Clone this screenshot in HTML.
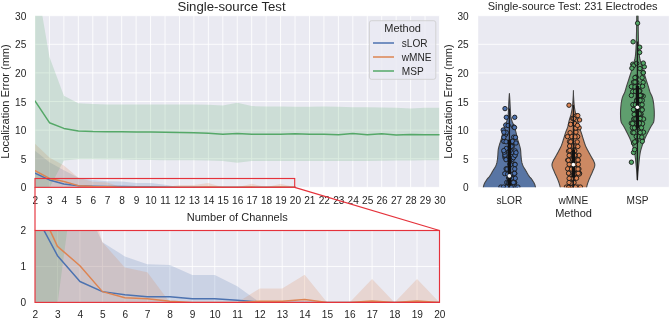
<!DOCTYPE html><html><head><meta charset="utf-8"><style>html,body{margin:0;padding:0;background:#fff;width:671px;height:319px;overflow:hidden}svg{display:block;will-change:transform}text{font-family:"Liberation Sans", sans-serif;fill:#262626}</style></head><body>
<svg width="671" height="319" viewBox="0 0 671 319">
<defs>
<clipPath id="cT"><rect x="35.0" y="15.7" width="404.5" height="171.65"/></clipPath>
<clipPath id="cI"><rect x="35.0" y="230.5" width="404.5" height="71.89999999999998"/></clipPath>
<clipPath id="cR"><rect x="478.2" y="15.7" width="190.7" height="171.65"/></clipPath>
</defs>
<rect x="35.0" y="15.7" width="404.5" height="171.65" fill="#EAEAF2"/>
<path d="M35.00 15.7V187.35M49.45 15.7V187.35M63.89 15.7V187.35M78.34 15.7V187.35M92.79 15.7V187.35M107.23 15.7V187.35M121.68 15.7V187.35M136.12 15.7V187.35M150.57 15.7V187.35M165.02 15.7V187.35M179.46 15.7V187.35M193.91 15.7V187.35M208.36 15.7V187.35M222.80 15.7V187.35M237.25 15.7V187.35M251.70 15.7V187.35M266.14 15.7V187.35M280.59 15.7V187.35M295.04 15.7V187.35M309.48 15.7V187.35M323.93 15.7V187.35M338.38 15.7V187.35M352.82 15.7V187.35M367.27 15.7V187.35M381.71 15.7V187.35M396.16 15.7V187.35M410.61 15.7V187.35M425.05 15.7V187.35M439.50 15.7V187.35M35.0 187.35H439.5M35.0 158.74H439.5M35.0 130.13H439.5M35.0 101.52H439.5M35.0 72.92H439.5M35.0 44.31H439.5M35.0 15.70H439.5" stroke="#fff" stroke-width="0.85" fill="none"/>
<g clip-path="url(#cT)">
<polygon points="35.00,150.73 49.45,162.17 63.89,170.19 78.34,177.79 92.79,180.03 107.23,181.29 121.68,181.40 136.12,183.00 150.57,183.00 165.02,184.78 179.46,187.35 193.91,187.35 208.36,187.35 222.80,187.35 237.25,187.35 251.70,187.35 266.14,187.35 280.59,187.35 295.04,187.35 295.04,187.35 280.59,187.35 266.14,187.35 251.70,187.35 237.25,187.35 222.80,187.35 208.36,187.35 193.91,187.35 179.46,187.35 165.02,187.35 150.57,187.35 136.12,187.35 121.68,187.35 107.23,187.35 92.79,187.35 78.34,187.35 63.89,187.35 49.45,187.35 35.00,187.35" fill="#4C72B0" fill-opacity="0.2"/>
<polygon points="35.00,143.87 49.45,157.60 63.89,165.61 78.34,177.79 92.79,181.80 107.23,182.54 121.68,187.35 136.12,187.35 150.57,187.35 165.02,187.35 179.46,185.12 193.91,185.12 208.36,182.94 222.80,187.35 237.25,187.35 251.70,183.63 266.14,187.35 280.59,183.63 295.04,187.35 295.04,187.35 280.59,187.35 266.14,187.35 251.70,187.35 237.25,187.35 222.80,187.35 208.36,187.35 193.91,187.35 179.46,187.35 165.02,187.35 150.57,187.35 136.12,187.35 121.68,187.35 107.23,187.35 92.79,187.35 78.34,187.35 63.89,187.35 49.45,187.35 35.00,187.35" fill="#DD8452" fill-opacity="0.2"/>
<polygon points="35.00,-27.21 49.45,56.90 63.89,95.80 78.34,103.24 92.79,104.10 107.23,104.39 121.68,104.39 136.12,104.39 150.57,104.39 165.02,104.39 179.46,104.39 193.91,104.39 208.36,104.67 222.80,105.53 237.25,102.67 251.70,106.10 266.14,106.39 280.59,106.39 295.04,106.67 309.48,106.67 323.93,106.39 338.38,106.67 352.82,107.25 367.27,107.25 381.71,107.53 396.16,107.82 410.61,108.39 425.05,107.82 439.50,107.82 439.50,160.17 425.05,160.17 410.61,160.46 396.16,160.46 381.71,160.74 367.27,161.03 352.82,161.03 338.38,161.03 323.93,161.03 309.48,161.03 295.04,161.03 280.59,161.03 266.14,161.03 251.70,161.03 237.25,162.75 222.80,161.03 208.36,160.46 193.91,160.17 179.46,160.17 165.02,160.17 150.57,159.89 136.12,159.89 121.68,159.60 107.23,159.60 92.79,159.31 78.34,159.31 63.89,160.46 49.45,187.64 35.00,198.79" fill="#55A868" fill-opacity="0.2"/>
<polyline points="35.00,173.22 49.45,179.91 63.89,184.03 78.34,185.63 92.79,186.15 107.23,186.43 121.68,186.43 136.12,186.78 150.57,186.78 165.02,187.01 179.46,187.29 193.91,187.35 208.36,187.35 222.80,187.35 237.25,187.35 251.70,187.35 266.14,187.35 280.59,187.35 295.04,187.35" fill="none" stroke="#4C72B0" stroke-width="1.5" stroke-linejoin="round" stroke-linecap="round"/>
<polyline points="35.00,170.76 49.45,178.42 63.89,181.51 78.34,185.63 92.79,186.61 107.23,186.78 121.68,187.18 136.12,187.35 150.57,187.35 165.02,187.35 179.46,187.18 193.91,187.18 208.36,186.89 222.80,187.35 237.25,187.35 251.70,187.12 266.14,187.35 280.59,187.12 295.04,187.35" fill="none" stroke="#DD8452" stroke-width="1.5" stroke-linejoin="round" stroke-linecap="round"/>
<polyline points="35.00,100.95 49.45,122.70 63.89,128.42 78.34,130.99 92.79,131.56 107.23,131.74 121.68,131.85 136.12,131.96 150.57,132.08 165.02,132.25 179.46,132.42 193.91,132.71 208.36,133.28 222.80,134.14 237.25,133.57 251.70,134.14 266.14,134.14 280.59,134.14 295.04,133.85 309.48,134.14 323.93,134.14 338.38,134.71 352.82,133.57 367.27,134.71 381.71,133.85 396.16,135.00 410.61,134.42 425.05,134.71 439.50,134.71" fill="none" stroke="#55A868" stroke-width="1.5" stroke-linejoin="round" stroke-linecap="round"/>
</g>
<text x="26.3" y="191.45" font-size="10.1" text-anchor="end">0</text>
<text x="26.3" y="162.84" font-size="10.1" text-anchor="end">5</text>
<text x="26.3" y="134.23" font-size="10.1" text-anchor="end">10</text>
<text x="26.3" y="105.62" font-size="10.1" text-anchor="end">15</text>
<text x="26.3" y="77.02" font-size="10.1" text-anchor="end">20</text>
<text x="26.3" y="48.41" font-size="10.1" text-anchor="end">25</text>
<text x="26.3" y="19.80" font-size="10.1" text-anchor="end">30</text>
<text x="35.40" y="203.8" font-size="10.1" text-anchor="middle">2</text>
<text x="49.85" y="203.8" font-size="10.1" text-anchor="middle">3</text>
<text x="64.29" y="203.8" font-size="10.1" text-anchor="middle">4</text>
<text x="78.74" y="203.8" font-size="10.1" text-anchor="middle">5</text>
<text x="93.19" y="203.8" font-size="10.1" text-anchor="middle">6</text>
<text x="107.63" y="203.8" font-size="10.1" text-anchor="middle">7</text>
<text x="122.08" y="203.8" font-size="10.1" text-anchor="middle">8</text>
<text x="136.53" y="203.8" font-size="10.1" text-anchor="middle">9</text>
<text x="150.97" y="203.8" font-size="10.1" text-anchor="middle">10</text>
<text x="165.42" y="203.8" font-size="10.1" text-anchor="middle">11</text>
<text x="179.86" y="203.8" font-size="10.1" text-anchor="middle">12</text>
<text x="194.31" y="203.8" font-size="10.1" text-anchor="middle">13</text>
<text x="208.76" y="203.8" font-size="10.1" text-anchor="middle">14</text>
<text x="223.20" y="203.8" font-size="10.1" text-anchor="middle">15</text>
<text x="237.65" y="203.8" font-size="10.1" text-anchor="middle">16</text>
<text x="252.10" y="203.8" font-size="10.1" text-anchor="middle">17</text>
<text x="266.54" y="203.8" font-size="10.1" text-anchor="middle">18</text>
<text x="280.99" y="203.8" font-size="10.1" text-anchor="middle">19</text>
<text x="295.44" y="203.8" font-size="10.1" text-anchor="middle">20</text>
<text x="309.88" y="203.8" font-size="10.1" text-anchor="middle">21</text>
<text x="324.33" y="203.8" font-size="10.1" text-anchor="middle">22</text>
<text x="338.77" y="203.8" font-size="10.1" text-anchor="middle">23</text>
<text x="353.22" y="203.8" font-size="10.1" text-anchor="middle">24</text>
<text x="367.67" y="203.8" font-size="10.1" text-anchor="middle">25</text>
<text x="382.11" y="203.8" font-size="10.1" text-anchor="middle">26</text>
<text x="396.56" y="203.8" font-size="10.1" text-anchor="middle">27</text>
<text x="411.01" y="203.8" font-size="10.1" text-anchor="middle">28</text>
<text x="425.45" y="203.8" font-size="10.1" text-anchor="middle">29</text>
<text x="439.90" y="203.8" font-size="10.1" text-anchor="middle">30</text>
<text x="177.4" y="10.5" font-size="13.2">Single-source Test</text>
<text x="237.25" y="220.9" font-size="11" text-anchor="middle">Number of Channels</text>
<text transform="translate(9.1,101.52) rotate(-90)" font-size="11" text-anchor="middle">Localization Error (mm)</text>
<rect x="369.4" y="20.7" width="66.4" height="58.6" rx="2.2" fill="#EAEAF2" fill-opacity="0.8" stroke="#cccccc" stroke-opacity="0.8" stroke-width="1"/>
<text x="402.6" y="32" font-size="11" text-anchor="middle">Method</text>
<line x1="373" y1="43" x2="394" y2="43" stroke="#4C72B0" stroke-width="1.5"/>
<text x="401.8" y="46.6" font-size="10.1">sLOR</text>
<line x1="373" y1="57" x2="394" y2="57" stroke="#DD8452" stroke-width="1.5"/>
<text x="401.8" y="60.6" font-size="10.1">wMNE</text>
<line x1="373" y1="71" x2="394" y2="71" stroke="#55A868" stroke-width="1.5"/>
<text x="401.8" y="74.6" font-size="10.1">MSP</text>
<rect x="35.0" y="230.5" width="404.5" height="71.89999999999998" fill="#EAEAF2"/>
<path d="M35.00 230.5V302.4M57.47 230.5V302.4M79.94 230.5V302.4M102.42 230.5V302.4M124.89 230.5V302.4M147.36 230.5V302.4M169.83 230.5V302.4M192.31 230.5V302.4M214.78 230.5V302.4M237.25 230.5V302.4M259.72 230.5V302.4M282.19 230.5V302.4M304.67 230.5V302.4M327.14 230.5V302.4M349.61 230.5V302.4M372.08 230.5V302.4M394.56 230.5V302.4M417.03 230.5V302.4M439.50 230.5V302.4M35.0 302.40H439.5M35.0 266.45H439.5M35.0 230.50H439.5" stroke="#fff" stroke-width="0.85" fill="none"/>
<g clip-path="url(#cI)">
<polygon points="35.00,72.32 57.47,144.22 79.94,194.55 102.42,242.36 124.89,256.38 147.36,264.29 169.83,265.01 192.31,275.08 214.78,275.08 237.25,286.22 259.72,302.40 282.19,302.40 304.67,302.40 327.14,302.40 349.61,302.40 372.08,302.40 394.56,302.40 417.03,302.40 439.50,302.40 439.50,302.40 417.03,302.40 394.56,302.40 372.08,302.40 349.61,302.40 327.14,302.40 304.67,302.40 282.19,302.40 259.72,302.40 237.25,302.40 214.78,302.40 192.31,302.40 169.83,302.40 147.36,302.40 124.89,302.40 102.42,302.40 79.94,302.40 57.47,302.40 35.00,302.40" fill="#4C72B0" fill-opacity="0.2"/>
<polygon points="35.00,29.18 57.47,115.46 79.94,165.79 102.42,242.36 124.89,267.53 147.36,272.20 169.83,302.40 192.31,302.40 214.78,302.40 237.25,302.40 259.72,288.38 282.19,288.38 304.67,274.72 327.14,302.40 349.61,302.40 372.08,279.03 394.56,302.40 417.03,279.03 439.50,302.40 439.50,302.40 417.03,302.40 394.56,302.40 372.08,302.40 349.61,302.40 327.14,302.40 304.67,302.40 282.19,302.40 259.72,302.40 237.25,302.40 214.78,302.40 192.31,302.40 169.83,302.40 147.36,302.40 124.89,302.40 102.42,302.40 79.94,302.40 57.47,302.40 35.00,302.40" fill="#DD8452" fill-opacity="0.2"/>
<polygon points="35.00,-1045.72 57.47,-517.26 79.94,-272.80 102.42,-226.06 124.89,-220.67 147.36,-218.87 169.83,-218.87 192.31,-218.87 214.78,-218.87 237.25,-218.87 259.72,-218.87 282.19,-218.87 304.67,-217.08 327.14,-211.68 349.61,-229.66 372.08,-208.09 394.56,-206.29 417.03,-206.29 439.50,-204.49 439.50,137.03 417.03,137.03 394.56,137.03 372.08,137.03 349.61,147.82 327.14,137.03 304.67,133.44 282.19,131.64 259.72,131.64 237.25,131.64 214.78,129.84 192.31,129.84 169.83,128.04 147.36,128.04 124.89,126.25 102.42,126.25 79.94,133.44 57.47,304.20 35.00,374.30" fill="#55A868" fill-opacity="0.2"/>
<polyline points="35.00,213.60 57.47,255.66 79.94,281.55 102.42,291.62 124.89,294.85 147.36,296.65 169.83,296.65 192.31,298.80 214.78,298.80 237.25,300.24 259.72,302.04 282.19,302.40 304.67,302.40 327.14,302.40 349.61,302.40 372.08,302.40 394.56,302.40 417.03,302.40 439.50,302.40" fill="none" stroke="#4C72B0" stroke-width="1.5" stroke-linejoin="round" stroke-linecap="round"/>
<polyline points="35.00,198.15 57.47,246.32 79.94,265.73 102.42,291.62 124.89,297.73 147.36,298.80 169.83,301.32 192.31,302.40 214.78,302.40 237.25,302.40 259.72,301.32 282.19,301.32 304.67,299.52 327.14,302.40 349.61,302.40 372.08,300.96 394.56,302.40 417.03,300.96 439.50,302.40" fill="none" stroke="#DD8452" stroke-width="1.5" stroke-linejoin="round" stroke-linecap="round"/>
<polyline points="35.00,-240.44 57.47,-103.83 79.94,-67.88 102.42,-51.71 124.89,-48.11 147.36,-47.03 169.83,-46.31 192.31,-45.60 214.78,-44.88 237.25,-43.80 259.72,-42.72 282.19,-40.92 304.67,-37.33 327.14,-31.93 349.61,-35.53 372.08,-31.93 394.56,-31.93 417.03,-31.93 439.50,-33.73" fill="none" stroke="#55A868" stroke-width="1.5" stroke-linejoin="round" stroke-linecap="round"/>
</g>
<text x="26.2" y="306.30" font-size="10.1" text-anchor="end">0</text>
<text x="26.2" y="270.35" font-size="10.1" text-anchor="end">1</text>
<text x="26.2" y="234.40" font-size="10.1" text-anchor="end">2</text>
<text x="35.30" y="318.0" font-size="10.1" text-anchor="middle">2</text>
<text x="57.77" y="318.0" font-size="10.1" text-anchor="middle">3</text>
<text x="80.24" y="318.0" font-size="10.1" text-anchor="middle">4</text>
<text x="102.72" y="318.0" font-size="10.1" text-anchor="middle">5</text>
<text x="125.19" y="318.0" font-size="10.1" text-anchor="middle">6</text>
<text x="147.66" y="318.0" font-size="10.1" text-anchor="middle">7</text>
<text x="170.13" y="318.0" font-size="10.1" text-anchor="middle">8</text>
<text x="192.61" y="318.0" font-size="10.1" text-anchor="middle">9</text>
<text x="215.08" y="318.0" font-size="10.1" text-anchor="middle">10</text>
<text x="237.55" y="318.0" font-size="10.1" text-anchor="middle">11</text>
<text x="260.02" y="318.0" font-size="10.1" text-anchor="middle">12</text>
<text x="282.49" y="318.0" font-size="10.1" text-anchor="middle">13</text>
<text x="304.97" y="318.0" font-size="10.1" text-anchor="middle">14</text>
<text x="327.44" y="318.0" font-size="10.1" text-anchor="middle">15</text>
<text x="349.91" y="318.0" font-size="10.1" text-anchor="middle">16</text>
<text x="372.38" y="318.0" font-size="10.1" text-anchor="middle">17</text>
<text x="394.86" y="318.0" font-size="10.1" text-anchor="middle">18</text>
<text x="417.33" y="318.0" font-size="10.1" text-anchor="middle">19</text>
<text x="439.80" y="318.0" font-size="10.1" text-anchor="middle">20</text>
<rect x="35.0" y="230.5" width="404.5" height="71.89999999999998" fill="none" stroke="#E5323B" stroke-width="1.15"/>
<rect x="35.0" y="178.5" width="259.70" height="8.85" fill="none" stroke="#E5323B" stroke-width="1.15"/>
<line x1="35.0" y1="187.35" x2="35.0" y2="230.5" stroke="#E5323B" stroke-width="1.15"/>
<line x1="294.7" y1="187.35" x2="439.5" y2="230.5" stroke="#E5323B" stroke-width="1.15"/>
<rect x="478.2" y="15.7" width="190.70" height="171.65" fill="#EAEAF2"/>
<path d="M478.2 187.35H668.9M478.2 158.74H668.9M478.2 130.13H668.9M478.2 101.52H668.9M478.2 72.92H668.9M478.2 44.31H668.9M478.2 15.70H668.9" stroke="#fff" stroke-width="0.85" fill="none"/>
<g clip-path="url(#cR)">
<path d="M482.80,191.93 L482.82,191.10 L482.88,190.27 L482.98,189.45 L483.10,188.62 L483.25,187.79 L483.41,186.97 L483.59,186.14 L483.78,185.31 L484.05,184.48 L484.41,183.66 L484.83,182.83 L485.30,182.00 L485.81,181.18 L486.35,180.35 L486.89,179.52 L487.51,178.70 L488.24,177.87 L488.99,177.04 L489.68,176.21 L490.25,175.39 L490.77,174.56 L491.25,173.73 L491.71,172.91 L492.16,172.08 L492.62,171.25 L493.10,170.43 L493.61,169.60 L494.15,168.77 L494.67,167.94 L495.17,167.12 L495.60,166.29 L495.96,165.46 L496.26,164.64 L496.54,163.81 L496.79,162.98 L496.99,162.16 L497.15,161.33 L497.28,160.50 L497.40,159.67 L497.50,158.85 L497.59,158.02 L497.68,157.19 L497.76,156.37 L497.83,155.54 L497.89,154.71 L497.94,153.89 L497.98,153.06 L498.03,152.23 L498.09,151.40 L498.16,150.58 L498.25,149.75 L498.39,148.92 L498.57,148.10 L498.78,147.27 L499.00,146.44 L499.23,145.62 L499.46,144.79 L499.70,143.96 L499.97,143.13 L500.25,142.31 L500.54,141.48 L500.82,140.65 L501.08,139.83 L501.32,139.00 L501.54,138.17 L501.73,137.35 L501.91,136.52 L502.08,135.69 L502.25,134.86 L502.42,134.04 L502.61,133.21 L502.81,132.38 L503.03,131.56 L503.25,130.73 L503.49,129.90 L503.73,129.08 L503.99,128.25 L504.26,127.42 L504.53,126.59 L504.82,125.77 L505.14,124.94 L505.51,124.11 L505.89,123.29 L506.26,122.46 L506.57,121.63 L506.85,120.81 L507.12,119.98 L507.38,119.15 L507.62,118.32 L507.82,117.50 L507.99,116.67 L508.10,115.84 L508.18,115.02 L508.24,114.19 L508.30,113.36 L508.35,112.54 L508.39,111.71 L508.43,110.88 L508.47,110.05 L508.50,109.23 L508.54,108.40 L508.58,107.57 L508.63,106.75 L508.67,105.92 L508.71,105.09 L508.75,104.27 L508.79,103.44 L508.83,102.61 L508.87,101.78 L508.92,100.96 L508.96,100.13 L509.01,99.30 L509.06,98.48 L509.12,97.65 L509.17,96.82 L509.23,96.00 L509.28,95.17 L509.34,94.34 L509.40,93.51 L509.40,93.51 L509.46,94.34 L509.52,95.17 L509.57,96.00 L509.63,96.82 L509.68,97.65 L509.74,98.48 L509.79,99.30 L509.84,100.13 L509.88,100.96 L509.93,101.78 L509.97,102.61 L510.01,103.44 L510.05,104.27 L510.09,105.09 L510.13,105.92 L510.17,106.75 L510.22,107.57 L510.26,108.40 L510.30,109.23 L510.33,110.05 L510.37,110.88 L510.41,111.71 L510.45,112.54 L510.50,113.36 L510.56,114.19 L510.62,115.02 L510.70,115.84 L510.81,116.67 L510.98,117.50 L511.18,118.32 L511.42,119.15 L511.68,119.98 L511.95,120.81 L512.23,121.63 L512.54,122.46 L512.91,123.29 L513.29,124.11 L513.66,124.94 L513.98,125.77 L514.27,126.59 L514.54,127.42 L514.81,128.25 L515.07,129.08 L515.31,129.90 L515.55,130.73 L515.77,131.56 L515.99,132.38 L516.19,133.21 L516.38,134.04 L516.55,134.86 L516.72,135.69 L516.89,136.52 L517.07,137.35 L517.26,138.17 L517.48,139.00 L517.72,139.83 L517.98,140.65 L518.26,141.48 L518.55,142.31 L518.83,143.13 L519.10,143.96 L519.34,144.79 L519.57,145.62 L519.80,146.44 L520.02,147.27 L520.23,148.10 L520.41,148.92 L520.55,149.75 L520.64,150.58 L520.71,151.40 L520.77,152.23 L520.82,153.06 L520.86,153.89 L520.91,154.71 L520.97,155.54 L521.04,156.37 L521.12,157.19 L521.21,158.02 L521.30,158.85 L521.40,159.67 L521.52,160.50 L521.65,161.33 L521.81,162.16 L522.01,162.98 L522.26,163.81 L522.54,164.64 L522.84,165.46 L523.20,166.29 L523.63,167.12 L524.13,167.94 L524.65,168.77 L525.19,169.60 L525.70,170.43 L526.18,171.25 L526.64,172.08 L527.09,172.91 L527.55,173.73 L528.03,174.56 L528.55,175.39 L529.12,176.21 L529.81,177.04 L530.56,177.87 L531.29,178.70 L531.91,179.52 L532.45,180.35 L532.99,181.18 L533.50,182.00 L533.97,182.83 L534.39,183.66 L534.75,184.48 L535.02,185.31 L535.21,186.14 L535.39,186.97 L535.55,187.79 L535.70,188.62 L535.82,189.45 L535.92,190.27 L535.98,191.10 L536.00,191.93Z" fill="#5875A4" stroke="#444" stroke-width="1.1" stroke-linejoin="round"/>
<path d="M560.90,191.93 L560.81,191.08 L560.70,190.23 L560.57,189.37 L560.42,188.52 L560.27,187.67 L560.10,186.82 L559.91,185.97 L559.69,185.12 L559.44,184.27 L559.18,183.42 L558.91,182.57 L558.61,181.71 L558.30,180.86 L557.96,180.01 L557.60,179.16 L557.24,178.31 L556.87,177.46 L556.51,176.61 L556.12,175.76 L555.72,174.91 L555.32,174.06 L554.92,173.20 L554.55,172.35 L554.20,171.50 L553.85,170.65 L553.48,169.80 L553.10,168.95 L552.75,168.10 L552.44,167.25 L552.19,166.40 L552.04,165.55 L552.00,164.69 L552.11,163.84 L552.35,162.99 L552.67,162.14 L553.04,161.29 L553.41,160.44 L553.85,159.59 L554.38,158.74 L554.90,157.89 L555.38,157.03 L555.87,156.18 L556.35,155.33 L556.83,154.48 L557.30,153.63 L557.77,152.78 L558.22,151.93 L558.67,151.08 L559.12,150.23 L559.57,149.38 L560.01,148.52 L560.43,147.67 L560.84,146.82 L561.22,145.97 L561.57,145.12 L561.89,144.27 L562.19,143.42 L562.47,142.57 L562.75,141.72 L563.01,140.87 L563.28,140.01 L563.55,139.16 L563.82,138.31 L564.08,137.46 L564.34,136.61 L564.59,135.76 L564.85,134.91 L565.11,134.06 L565.38,133.21 L565.67,132.35 L565.99,131.50 L566.33,130.65 L566.68,129.80 L567.02,128.95 L567.35,128.10 L567.64,127.25 L567.88,126.40 L568.09,125.55 L568.28,124.70 L568.46,123.84 L568.63,122.99 L568.80,122.14 L568.99,121.29 L569.19,120.44 L569.43,119.59 L569.69,118.74 L569.97,117.89 L570.25,117.04 L570.53,116.18 L570.79,115.33 L571.01,114.48 L571.20,113.63 L571.38,112.78 L571.56,111.93 L571.73,111.08 L571.89,110.23 L572.04,109.38 L572.19,108.53 L572.32,107.67 L572.44,106.82 L572.54,105.97 L572.63,105.12 L572.71,104.27 L572.78,103.42 L572.84,102.57 L572.91,101.72 L572.97,100.87 L573.03,100.02 L573.09,99.16 L573.14,98.31 L573.19,97.46 L573.24,96.61 L573.28,95.76 L573.31,94.91 L573.34,94.06 L573.37,93.21 L573.39,92.36 L573.40,91.50 L573.40,90.65 L573.40,90.65 L573.40,91.50 L573.41,92.36 L573.43,93.21 L573.46,94.06 L573.49,94.91 L573.52,95.76 L573.56,96.61 L573.61,97.46 L573.66,98.31 L573.71,99.16 L573.77,100.02 L573.83,100.87 L573.89,101.72 L573.96,102.57 L574.02,103.42 L574.09,104.27 L574.17,105.12 L574.26,105.97 L574.36,106.82 L574.48,107.67 L574.61,108.53 L574.76,109.38 L574.91,110.23 L575.07,111.08 L575.24,111.93 L575.42,112.78 L575.60,113.63 L575.79,114.48 L576.01,115.33 L576.27,116.18 L576.55,117.04 L576.83,117.89 L577.11,118.74 L577.37,119.59 L577.61,120.44 L577.81,121.29 L578.00,122.14 L578.17,122.99 L578.34,123.84 L578.52,124.70 L578.71,125.55 L578.92,126.40 L579.16,127.25 L579.45,128.10 L579.78,128.95 L580.12,129.80 L580.47,130.65 L580.81,131.50 L581.13,132.35 L581.42,133.21 L581.69,134.06 L581.95,134.91 L582.21,135.76 L582.46,136.61 L582.72,137.46 L582.98,138.31 L583.25,139.16 L583.52,140.01 L583.79,140.87 L584.05,141.72 L584.33,142.57 L584.61,143.42 L584.91,144.27 L585.23,145.12 L585.58,145.97 L585.96,146.82 L586.37,147.67 L586.79,148.52 L587.23,149.38 L587.68,150.23 L588.13,151.08 L588.58,151.93 L589.03,152.78 L589.50,153.63 L589.97,154.48 L590.45,155.33 L590.93,156.18 L591.42,157.03 L591.90,157.89 L592.42,158.74 L592.95,159.59 L593.39,160.44 L593.76,161.29 L594.13,162.14 L594.45,162.99 L594.69,163.84 L594.80,164.69 L594.76,165.55 L594.61,166.40 L594.36,167.25 L594.05,168.10 L593.70,168.95 L593.32,169.80 L592.95,170.65 L592.60,171.50 L592.25,172.35 L591.88,173.20 L591.48,174.06 L591.08,174.91 L590.68,175.76 L590.29,176.61 L589.93,177.46 L589.56,178.31 L589.20,179.16 L588.84,180.01 L588.50,180.86 L588.19,181.71 L587.89,182.57 L587.62,183.42 L587.36,184.27 L587.11,185.12 L586.89,185.97 L586.70,186.82 L586.53,187.67 L586.38,188.52 L586.23,189.37 L586.10,190.23 L585.99,191.08 L585.90,191.93Z" fill="#CC8963" stroke="#444" stroke-width="1.1" stroke-linejoin="round"/>
<path d="M637.40,179.91 L637.30,178.39 L637.20,176.86 L637.08,175.34 L636.96,173.82 L636.84,172.29 L636.70,170.77 L636.56,169.24 L636.40,167.72 L636.25,166.19 L636.08,164.67 L635.92,163.15 L635.76,161.62 L635.60,160.10 L635.43,158.57 L635.24,157.05 L635.04,155.53 L634.81,154.00 L634.55,152.48 L634.21,150.95 L633.80,149.43 L633.36,147.90 L632.89,146.38 L632.40,144.86 L631.86,143.33 L631.28,141.81 L630.67,140.28 L630.03,138.76 L629.34,137.23 L628.61,135.71 L627.86,134.19 L627.09,132.66 L626.29,131.14 L625.47,129.61 L624.64,128.09 L623.83,126.57 L622.88,125.04 L621.90,123.52 L621.14,121.99 L620.85,120.47 L620.72,118.94 L620.62,117.42 L620.54,115.90 L620.51,114.37 L620.51,112.85 L620.55,111.32 L620.63,109.80 L620.74,108.28 L620.86,106.75 L621.00,105.23 L621.17,103.70 L621.39,102.18 L621.66,100.65 L621.98,99.13 L622.35,97.61 L622.94,96.08 L623.70,94.56 L624.43,93.03 L625.00,91.51 L625.48,89.99 L625.93,88.46 L626.37,86.94 L626.83,85.41 L627.31,83.89 L627.81,82.36 L628.30,80.84 L628.80,79.32 L629.29,77.79 L629.79,76.27 L630.28,74.74 L630.77,73.22 L631.25,71.70 L631.71,70.17 L632.18,68.65 L632.63,67.12 L633.07,65.60 L633.49,64.07 L633.93,62.55 L634.38,61.03 L634.80,59.50 L635.14,57.98 L635.35,56.45 L635.51,54.93 L635.66,53.41 L635.78,51.88 L635.89,50.36 L635.99,48.83 L636.07,47.31 L636.14,45.78 L636.20,44.26 L636.25,42.74 L636.30,41.21 L636.35,39.69 L636.39,38.16 L636.42,36.64 L636.46,35.12 L636.49,33.59 L636.52,32.07 L636.55,30.54 L636.57,29.02 L636.59,27.49 L636.62,25.97 L636.64,24.45 L636.66,22.92 L636.68,21.40 L636.71,19.87 L636.73,18.35 L636.75,16.83 L636.77,15.30 L636.78,13.78 L636.80,12.25 L636.82,10.73 L636.83,9.20 L636.85,7.68 L636.86,6.16 L636.87,4.63 L636.88,3.11 L636.89,1.58 L636.90,0.06 L636.90,-1.47 L637.90,-1.47 L637.90,0.06 L637.91,1.58 L637.92,3.11 L637.93,4.63 L637.94,6.16 L637.95,7.68 L637.97,9.20 L637.98,10.73 L638.00,12.25 L638.02,13.78 L638.03,15.30 L638.05,16.83 L638.07,18.35 L638.09,19.87 L638.12,21.40 L638.14,22.92 L638.16,24.45 L638.18,25.97 L638.21,27.49 L638.23,29.02 L638.25,30.54 L638.28,32.07 L638.31,33.59 L638.34,35.12 L638.38,36.64 L638.41,38.16 L638.45,39.69 L638.50,41.21 L638.55,42.74 L638.60,44.26 L638.66,45.78 L638.73,47.31 L638.81,48.83 L638.91,50.36 L639.02,51.88 L639.14,53.41 L639.29,54.93 L639.45,56.45 L639.66,57.98 L640.00,59.50 L640.42,61.03 L640.87,62.55 L641.31,64.07 L641.73,65.60 L642.17,67.12 L642.62,68.65 L643.09,70.17 L643.55,71.70 L644.03,73.22 L644.52,74.74 L645.01,76.27 L645.51,77.79 L646.00,79.32 L646.50,80.84 L646.99,82.36 L647.49,83.89 L647.97,85.41 L648.43,86.94 L648.87,88.46 L649.32,89.99 L649.80,91.51 L650.37,93.03 L651.10,94.56 L651.86,96.08 L652.45,97.61 L652.82,99.13 L653.14,100.65 L653.41,102.18 L653.63,103.70 L653.80,105.23 L653.94,106.75 L654.06,108.28 L654.17,109.80 L654.25,111.32 L654.29,112.85 L654.29,114.37 L654.26,115.90 L654.18,117.42 L654.08,118.94 L653.95,120.47 L653.66,121.99 L652.90,123.52 L651.92,125.04 L650.97,126.57 L650.16,128.09 L649.33,129.61 L648.51,131.14 L647.71,132.66 L646.94,134.19 L646.19,135.71 L645.46,137.23 L644.77,138.76 L644.13,140.28 L643.52,141.81 L642.94,143.33 L642.40,144.86 L641.91,146.38 L641.44,147.90 L641.00,149.43 L640.59,150.95 L640.25,152.48 L639.99,154.00 L639.76,155.53 L639.56,157.05 L639.37,158.57 L639.20,160.10 L639.04,161.62 L638.88,163.15 L638.72,164.67 L638.55,166.19 L638.40,167.72 L638.24,169.24 L638.10,170.77 L637.96,172.29 L637.84,173.82 L637.72,175.34 L637.60,176.86 L637.50,178.39 L637.40,179.91Z" fill="#5F9E6E" stroke="#444" stroke-width="1.1" stroke-linejoin="round"/>
<circle cx="512.50" cy="152.50" r="2.2" fill="#4C72B0" stroke="#1a1a1a" stroke-width="0.9"/>
<circle cx="515.28" cy="187.75" r="2.2" fill="#4C72B0" stroke="#1a1a1a" stroke-width="0.9"/>
<circle cx="512.18" cy="177.91" r="2.2" fill="#4C72B0" stroke="#1a1a1a" stroke-width="0.9"/>
<circle cx="505.00" cy="157.50" r="2.2" fill="#4C72B0" stroke="#1a1a1a" stroke-width="0.9"/>
<circle cx="514.73" cy="155.46" r="2.2" fill="#4C72B0" stroke="#1a1a1a" stroke-width="0.9"/>
<circle cx="515.24" cy="178.35" r="2.2" fill="#4C72B0" stroke="#1a1a1a" stroke-width="0.9"/>
<circle cx="513.80" cy="127.00" r="2.2" fill="#4C72B0" stroke="#1a1a1a" stroke-width="0.9"/>
<circle cx="511.95" cy="141.63" r="2.2" fill="#4C72B0" stroke="#1a1a1a" stroke-width="0.9"/>
<circle cx="504.89" cy="155.59" r="2.2" fill="#4C72B0" stroke="#1a1a1a" stroke-width="0.9"/>
<circle cx="512.33" cy="146.32" r="2.2" fill="#4C72B0" stroke="#1a1a1a" stroke-width="0.9"/>
<circle cx="514.76" cy="173.52" r="2.2" fill="#4C72B0" stroke="#1a1a1a" stroke-width="0.9"/>
<circle cx="508.41" cy="169.12" r="2.2" fill="#4C72B0" stroke="#1a1a1a" stroke-width="0.9"/>
<circle cx="505.70" cy="125.10" r="2.2" fill="#4C72B0" stroke="#1a1a1a" stroke-width="0.9"/>
<circle cx="509.64" cy="182.53" r="2.2" fill="#4C72B0" stroke="#1a1a1a" stroke-width="0.9"/>
<circle cx="508.20" cy="125.50" r="2.2" fill="#4C72B0" stroke="#1a1a1a" stroke-width="0.9"/>
<circle cx="514.70" cy="117.30" r="2.2" fill="#4C72B0" stroke="#1a1a1a" stroke-width="0.9"/>
<circle cx="514.64" cy="182.63" r="2.2" fill="#4C72B0" stroke="#1a1a1a" stroke-width="0.9"/>
<circle cx="515.40" cy="187.06" r="2.2" fill="#4C72B0" stroke="#1a1a1a" stroke-width="0.9"/>
<circle cx="505.90" cy="187.06" r="2.2" fill="#4C72B0" stroke="#1a1a1a" stroke-width="0.9"/>
<circle cx="504.00" cy="141.00" r="2.2" fill="#4C72B0" stroke="#1a1a1a" stroke-width="0.9"/>
<circle cx="505.70" cy="134.40" r="2.2" fill="#4C72B0" stroke="#1a1a1a" stroke-width="0.9"/>
<circle cx="514.80" cy="137.50" r="2.2" fill="#4C72B0" stroke="#1a1a1a" stroke-width="0.9"/>
<circle cx="513.62" cy="173.74" r="2.2" fill="#4C72B0" stroke="#1a1a1a" stroke-width="0.9"/>
<circle cx="506.75" cy="182.49" r="2.2" fill="#4C72B0" stroke="#1a1a1a" stroke-width="0.9"/>
<circle cx="514.50" cy="182.86" r="2.2" fill="#4C72B0" stroke="#1a1a1a" stroke-width="0.9"/>
<circle cx="512.04" cy="159.54" r="2.2" fill="#4C72B0" stroke="#1a1a1a" stroke-width="0.9"/>
<circle cx="503.86" cy="141.26" r="2.2" fill="#4C72B0" stroke="#1a1a1a" stroke-width="0.9"/>
<circle cx="513.70" cy="137.18" r="2.2" fill="#4C72B0" stroke="#1a1a1a" stroke-width="0.9"/>
<circle cx="514.50" cy="127.50" r="2.2" fill="#4C72B0" stroke="#1a1a1a" stroke-width="0.9"/>
<circle cx="508.75" cy="177.98" r="2.2" fill="#4C72B0" stroke="#1a1a1a" stroke-width="0.9"/>
<circle cx="508.35" cy="182.90" r="2.2" fill="#4C72B0" stroke="#1a1a1a" stroke-width="0.9"/>
<circle cx="506.16" cy="168.82" r="2.2" fill="#4C72B0" stroke="#1a1a1a" stroke-width="0.9"/>
<circle cx="509.82" cy="182.38" r="2.2" fill="#4C72B0" stroke="#1a1a1a" stroke-width="0.9"/>
<circle cx="506.54" cy="187.10" r="2.2" fill="#4C72B0" stroke="#1a1a1a" stroke-width="0.9"/>
<circle cx="506.30" cy="117.30" r="2.2" fill="#4C72B0" stroke="#1a1a1a" stroke-width="0.9"/>
<circle cx="506.27" cy="132.57" r="2.2" fill="#4C72B0" stroke="#1a1a1a" stroke-width="0.9"/>
<circle cx="503.88" cy="137.37" r="2.2" fill="#4C72B0" stroke="#1a1a1a" stroke-width="0.9"/>
<circle cx="512.30" cy="141.30" r="2.2" fill="#4C72B0" stroke="#1a1a1a" stroke-width="0.9"/>
<circle cx="509.37" cy="177.78" r="2.2" fill="#4C72B0" stroke="#1a1a1a" stroke-width="0.9"/>
<circle cx="500.90" cy="187.06" r="2.2" fill="#4C72B0" stroke="#1a1a1a" stroke-width="0.9"/>
<circle cx="507.09" cy="169.08" r="2.2" fill="#4C72B0" stroke="#1a1a1a" stroke-width="0.9"/>
<circle cx="509.88" cy="164.16" r="2.2" fill="#4C72B0" stroke="#1a1a1a" stroke-width="0.9"/>
<circle cx="505.00" cy="155.06" r="2.2" fill="#4C72B0" stroke="#1a1a1a" stroke-width="0.9"/>
<circle cx="504.78" cy="173.65" r="2.2" fill="#4C72B0" stroke="#1a1a1a" stroke-width="0.9"/>
<circle cx="503.20" cy="130.00" r="2.2" fill="#4C72B0" stroke="#1a1a1a" stroke-width="0.9"/>
<circle cx="509.47" cy="159.71" r="2.2" fill="#4C72B0" stroke="#1a1a1a" stroke-width="0.9"/>
<circle cx="513.50" cy="157.60" r="2.2" fill="#4C72B0" stroke="#1a1a1a" stroke-width="0.9"/>
<circle cx="510.10" cy="174.01" r="2.2" fill="#4C72B0" stroke="#1a1a1a" stroke-width="0.9"/>
<circle cx="507.64" cy="150.67" r="2.2" fill="#4C72B0" stroke="#1a1a1a" stroke-width="0.9"/>
<circle cx="515.18" cy="150.90" r="2.2" fill="#4C72B0" stroke="#1a1a1a" stroke-width="0.9"/>
<circle cx="515.06" cy="155.37" r="2.2" fill="#4C72B0" stroke="#1a1a1a" stroke-width="0.9"/>
<circle cx="517.90" cy="187.06" r="2.2" fill="#4C72B0" stroke="#1a1a1a" stroke-width="0.9"/>
<circle cx="509.67" cy="159.75" r="2.2" fill="#4C72B0" stroke="#1a1a1a" stroke-width="0.9"/>
<circle cx="504.30" cy="152.20" r="2.2" fill="#4C72B0" stroke="#1a1a1a" stroke-width="0.9"/>
<circle cx="510.03" cy="177.78" r="2.2" fill="#4C72B0" stroke="#1a1a1a" stroke-width="0.9"/>
<circle cx="506.30" cy="148.50" r="2.2" fill="#4C72B0" stroke="#1a1a1a" stroke-width="0.9"/>
<circle cx="503.87" cy="132.23" r="2.2" fill="#4C72B0" stroke="#1a1a1a" stroke-width="0.9"/>
<circle cx="511.24" cy="178.35" r="2.2" fill="#4C72B0" stroke="#1a1a1a" stroke-width="0.9"/>
<circle cx="515.46" cy="137.38" r="2.2" fill="#4C72B0" stroke="#1a1a1a" stroke-width="0.9"/>
<circle cx="506.09" cy="141.76" r="2.2" fill="#4C72B0" stroke="#1a1a1a" stroke-width="0.9"/>
<circle cx="516.00" cy="152.70" r="2.2" fill="#4C72B0" stroke="#1a1a1a" stroke-width="0.9"/>
<circle cx="509.32" cy="178.07" r="2.2" fill="#4C72B0" stroke="#1a1a1a" stroke-width="0.9"/>
<circle cx="514.76" cy="164.19" r="2.2" fill="#4C72B0" stroke="#1a1a1a" stroke-width="0.9"/>
<circle cx="507.74" cy="174.06" r="2.2" fill="#4C72B0" stroke="#1a1a1a" stroke-width="0.9"/>
<circle cx="503.40" cy="187.06" r="2.2" fill="#4C72B0" stroke="#1a1a1a" stroke-width="0.9"/>
<circle cx="510.97" cy="182.59" r="2.2" fill="#4C72B0" stroke="#1a1a1a" stroke-width="0.9"/>
<circle cx="515.10" cy="164.58" r="2.2" fill="#4C72B0" stroke="#1a1a1a" stroke-width="0.9"/>
<circle cx="510.07" cy="150.66" r="2.2" fill="#4C72B0" stroke="#1a1a1a" stroke-width="0.9"/>
<circle cx="506.03" cy="159.67" r="2.2" fill="#4C72B0" stroke="#1a1a1a" stroke-width="0.9"/>
<circle cx="513.44" cy="182.56" r="2.2" fill="#4C72B0" stroke="#1a1a1a" stroke-width="0.9"/>
<circle cx="512.90" cy="187.06" r="2.2" fill="#4C72B0" stroke="#1a1a1a" stroke-width="0.9"/>
<circle cx="516.00" cy="143.00" r="2.2" fill="#4C72B0" stroke="#1a1a1a" stroke-width="0.9"/>
<circle cx="510.95" cy="187.79" r="2.2" fill="#4C72B0" stroke="#1a1a1a" stroke-width="0.9"/>
<circle cx="511.24" cy="146.41" r="2.2" fill="#4C72B0" stroke="#1a1a1a" stroke-width="0.9"/>
<circle cx="511.34" cy="187.53" r="2.2" fill="#4C72B0" stroke="#1a1a1a" stroke-width="0.9"/>
<circle cx="505.00" cy="108.60" r="2.2" fill="#4C72B0" stroke="#1a1a1a" stroke-width="0.9"/>
<circle cx="510.58" cy="164.77" r="2.2" fill="#4C72B0" stroke="#1a1a1a" stroke-width="0.9"/>
<circle cx="514.74" cy="168.93" r="2.2" fill="#4C72B0" stroke="#1a1a1a" stroke-width="0.9"/>
<circle cx="514.51" cy="173.38" r="2.2" fill="#4C72B0" stroke="#1a1a1a" stroke-width="0.9"/>
<circle cx="503.77" cy="150.59" r="2.2" fill="#4C72B0" stroke="#1a1a1a" stroke-width="0.9"/>
<line x1="509.40" y1="193.07" x2="509.40" y2="108.39" stroke="#1a1a1a" stroke-width="1.3"/>
<line x1="509.40" y1="185.35" x2="509.40" y2="139.86" stroke="#111" stroke-width="3.4"/>
<circle cx="509.40" cy="175.91" r="1.8" fill="#fff"/>
<circle cx="573.07" cy="182.74" r="2.2" fill="#DD8452" stroke="#1a1a1a" stroke-width="0.9"/>
<circle cx="573.60" cy="146.19" r="2.2" fill="#DD8452" stroke="#1a1a1a" stroke-width="0.9"/>
<circle cx="574.58" cy="150.53" r="2.2" fill="#DD8452" stroke="#1a1a1a" stroke-width="0.9"/>
<circle cx="571.78" cy="141.15" r="2.2" fill="#DD8452" stroke="#1a1a1a" stroke-width="0.9"/>
<circle cx="570.06" cy="183.15" r="2.2" fill="#DD8452" stroke="#1a1a1a" stroke-width="0.9"/>
<circle cx="575.87" cy="173.66" r="2.2" fill="#DD8452" stroke="#1a1a1a" stroke-width="0.9"/>
<circle cx="574.94" cy="169.48" r="2.2" fill="#DD8452" stroke="#1a1a1a" stroke-width="0.9"/>
<circle cx="571.72" cy="136.58" r="2.2" fill="#DD8452" stroke="#1a1a1a" stroke-width="0.9"/>
<circle cx="567.74" cy="160.09" r="2.2" fill="#DD8452" stroke="#1a1a1a" stroke-width="0.9"/>
<circle cx="572.70" cy="118.42" r="2.2" fill="#DD8452" stroke="#1a1a1a" stroke-width="0.9"/>
<circle cx="575.49" cy="164.17" r="2.2" fill="#DD8452" stroke="#1a1a1a" stroke-width="0.9"/>
<circle cx="574.35" cy="145.76" r="2.2" fill="#DD8452" stroke="#1a1a1a" stroke-width="0.9"/>
<circle cx="578.28" cy="164.35" r="2.2" fill="#DD8452" stroke="#1a1a1a" stroke-width="0.9"/>
<circle cx="578.96" cy="155.28" r="2.2" fill="#DD8452" stroke="#1a1a1a" stroke-width="0.9"/>
<circle cx="579.29" cy="173.38" r="2.2" fill="#DD8452" stroke="#1a1a1a" stroke-width="0.9"/>
<circle cx="567.51" cy="136.60" r="2.2" fill="#DD8452" stroke="#1a1a1a" stroke-width="0.9"/>
<circle cx="579.55" cy="173.49" r="2.2" fill="#DD8452" stroke="#1a1a1a" stroke-width="0.9"/>
<circle cx="579.60" cy="120.00" r="2.2" fill="#DD8452" stroke="#1a1a1a" stroke-width="0.9"/>
<circle cx="574.39" cy="123.63" r="2.2" fill="#DD8452" stroke="#1a1a1a" stroke-width="0.9"/>
<circle cx="578.14" cy="160.19" r="2.2" fill="#DD8452" stroke="#1a1a1a" stroke-width="0.9"/>
<circle cx="572.88" cy="146.13" r="2.2" fill="#DD8452" stroke="#1a1a1a" stroke-width="0.9"/>
<circle cx="567.66" cy="168.78" r="2.2" fill="#DD8452" stroke="#1a1a1a" stroke-width="0.9"/>
<circle cx="572.18" cy="150.76" r="2.2" fill="#DD8452" stroke="#1a1a1a" stroke-width="0.9"/>
<circle cx="569.53" cy="141.74" r="2.2" fill="#DD8452" stroke="#1a1a1a" stroke-width="0.9"/>
<circle cx="577.26" cy="141.93" r="2.2" fill="#DD8452" stroke="#1a1a1a" stroke-width="0.9"/>
<circle cx="579.17" cy="174.07" r="2.2" fill="#DD8452" stroke="#1a1a1a" stroke-width="0.9"/>
<circle cx="571.20" cy="187.06" r="2.2" fill="#DD8452" stroke="#1a1a1a" stroke-width="0.9"/>
<circle cx="574.31" cy="178.58" r="2.2" fill="#DD8452" stroke="#1a1a1a" stroke-width="0.9"/>
<circle cx="576.20" cy="115.80" r="2.2" fill="#DD8452" stroke="#1a1a1a" stroke-width="0.9"/>
<circle cx="573.98" cy="174.04" r="2.2" fill="#DD8452" stroke="#1a1a1a" stroke-width="0.9"/>
<circle cx="574.77" cy="150.99" r="2.2" fill="#DD8452" stroke="#1a1a1a" stroke-width="0.9"/>
<circle cx="577.90" cy="187.06" r="2.2" fill="#DD8452" stroke="#1a1a1a" stroke-width="0.9"/>
<circle cx="568.54" cy="151.12" r="2.2" fill="#DD8452" stroke="#1a1a1a" stroke-width="0.9"/>
<circle cx="571.51" cy="169.09" r="2.2" fill="#DD8452" stroke="#1a1a1a" stroke-width="0.9"/>
<circle cx="575.17" cy="154.87" r="2.2" fill="#DD8452" stroke="#1a1a1a" stroke-width="0.9"/>
<circle cx="569.92" cy="187.20" r="2.2" fill="#DD8452" stroke="#1a1a1a" stroke-width="0.9"/>
<circle cx="566.40" cy="187.06" r="2.2" fill="#DD8452" stroke="#1a1a1a" stroke-width="0.9"/>
<circle cx="568.90" cy="187.06" r="2.2" fill="#DD8452" stroke="#1a1a1a" stroke-width="0.9"/>
<circle cx="580.40" cy="187.06" r="2.2" fill="#DD8452" stroke="#1a1a1a" stroke-width="0.9"/>
<circle cx="572.58" cy="164.65" r="2.2" fill="#DD8452" stroke="#1a1a1a" stroke-width="0.9"/>
<circle cx="577.41" cy="159.77" r="2.2" fill="#DD8452" stroke="#1a1a1a" stroke-width="0.9"/>
<circle cx="569.86" cy="155.12" r="2.2" fill="#DD8452" stroke="#1a1a1a" stroke-width="0.9"/>
<circle cx="569.00" cy="105.20" r="2.2" fill="#DD8452" stroke="#1a1a1a" stroke-width="0.9"/>
<circle cx="574.04" cy="182.62" r="2.2" fill="#DD8452" stroke="#1a1a1a" stroke-width="0.9"/>
<circle cx="576.53" cy="127.74" r="2.2" fill="#DD8452" stroke="#1a1a1a" stroke-width="0.9"/>
<circle cx="575.85" cy="168.69" r="2.2" fill="#DD8452" stroke="#1a1a1a" stroke-width="0.9"/>
<circle cx="574.60" cy="155.30" r="2.2" fill="#DD8452" stroke="#1a1a1a" stroke-width="0.9"/>
<circle cx="577.80" cy="115.60" r="2.2" fill="#DD8452" stroke="#1a1a1a" stroke-width="0.9"/>
<circle cx="573.01" cy="164.17" r="2.2" fill="#DD8452" stroke="#1a1a1a" stroke-width="0.9"/>
<circle cx="575.60" cy="187.06" r="2.2" fill="#DD8452" stroke="#1a1a1a" stroke-width="0.9"/>
<circle cx="570.98" cy="164.56" r="2.2" fill="#DD8452" stroke="#1a1a1a" stroke-width="0.9"/>
<circle cx="572.25" cy="178.01" r="2.2" fill="#DD8452" stroke="#1a1a1a" stroke-width="0.9"/>
<circle cx="571.48" cy="164.32" r="2.2" fill="#DD8452" stroke="#1a1a1a" stroke-width="0.9"/>
<circle cx="572.79" cy="178.28" r="2.2" fill="#DD8452" stroke="#1a1a1a" stroke-width="0.9"/>
<circle cx="570.11" cy="132.72" r="2.2" fill="#DD8452" stroke="#1a1a1a" stroke-width="0.9"/>
<circle cx="574.90" cy="123.70" r="2.2" fill="#DD8452" stroke="#1a1a1a" stroke-width="0.9"/>
<circle cx="570.89" cy="183.17" r="2.2" fill="#DD8452" stroke="#1a1a1a" stroke-width="0.9"/>
<circle cx="576.38" cy="160.03" r="2.2" fill="#DD8452" stroke="#1a1a1a" stroke-width="0.9"/>
<circle cx="569.17" cy="155.38" r="2.2" fill="#DD8452" stroke="#1a1a1a" stroke-width="0.9"/>
<circle cx="570.82" cy="187.70" r="2.2" fill="#DD8452" stroke="#1a1a1a" stroke-width="0.9"/>
<circle cx="575.95" cy="132.10" r="2.2" fill="#DD8452" stroke="#1a1a1a" stroke-width="0.9"/>
<circle cx="577.64" cy="136.58" r="2.2" fill="#DD8452" stroke="#1a1a1a" stroke-width="0.9"/>
<circle cx="570.67" cy="141.78" r="2.2" fill="#DD8452" stroke="#1a1a1a" stroke-width="0.9"/>
<circle cx="568.93" cy="173.37" r="2.2" fill="#DD8452" stroke="#1a1a1a" stroke-width="0.9"/>
<circle cx="572.10" cy="164.63" r="2.2" fill="#DD8452" stroke="#1a1a1a" stroke-width="0.9"/>
<circle cx="568.53" cy="187.59" r="2.2" fill="#DD8452" stroke="#1a1a1a" stroke-width="0.9"/>
<circle cx="578.89" cy="168.94" r="2.2" fill="#DD8452" stroke="#1a1a1a" stroke-width="0.9"/>
<circle cx="574.96" cy="168.85" r="2.2" fill="#DD8452" stroke="#1a1a1a" stroke-width="0.9"/>
<circle cx="572.79" cy="159.47" r="2.2" fill="#DD8452" stroke="#1a1a1a" stroke-width="0.9"/>
<circle cx="569.18" cy="164.34" r="2.2" fill="#DD8452" stroke="#1a1a1a" stroke-width="0.9"/>
<circle cx="569.16" cy="178.40" r="2.2" fill="#DD8452" stroke="#1a1a1a" stroke-width="0.9"/>
<circle cx="578.25" cy="173.25" r="2.2" fill="#DD8452" stroke="#1a1a1a" stroke-width="0.9"/>
<circle cx="572.88" cy="159.52" r="2.2" fill="#DD8452" stroke="#1a1a1a" stroke-width="0.9"/>
<circle cx="578.02" cy="169.07" r="2.2" fill="#DD8452" stroke="#1a1a1a" stroke-width="0.9"/>
<circle cx="579.15" cy="127.76" r="2.2" fill="#DD8452" stroke="#1a1a1a" stroke-width="0.9"/>
<circle cx="568.35" cy="160.25" r="2.2" fill="#DD8452" stroke="#1a1a1a" stroke-width="0.9"/>
<circle cx="575.08" cy="136.82" r="2.2" fill="#DD8452" stroke="#1a1a1a" stroke-width="0.9"/>
<circle cx="575.77" cy="128.03" r="2.2" fill="#DD8452" stroke="#1a1a1a" stroke-width="0.9"/>
<circle cx="578.04" cy="159.94" r="2.2" fill="#DD8452" stroke="#1a1a1a" stroke-width="0.9"/>
<circle cx="570.60" cy="124.40" r="2.2" fill="#DD8452" stroke="#1a1a1a" stroke-width="0.9"/>
<circle cx="569.80" cy="150.50" r="2.2" fill="#DD8452" stroke="#1a1a1a" stroke-width="0.9"/>
<circle cx="568.63" cy="173.21" r="2.2" fill="#DD8452" stroke="#1a1a1a" stroke-width="0.9"/>
<circle cx="569.59" cy="146.06" r="2.2" fill="#DD8452" stroke="#1a1a1a" stroke-width="0.9"/>
<circle cx="577.50" cy="125.40" r="2.2" fill="#DD8452" stroke="#1a1a1a" stroke-width="0.9"/>
<circle cx="569.02" cy="182.51" r="2.2" fill="#DD8452" stroke="#1a1a1a" stroke-width="0.9"/>
<circle cx="577.83" cy="146.50" r="2.2" fill="#DD8452" stroke="#1a1a1a" stroke-width="0.9"/>
<circle cx="576.54" cy="178.23" r="2.2" fill="#DD8452" stroke="#1a1a1a" stroke-width="0.9"/>
<circle cx="573.86" cy="118.56" r="2.2" fill="#DD8452" stroke="#1a1a1a" stroke-width="0.9"/>
<line x1="573.40" y1="193.07" x2="573.40" y2="104.96" stroke="#1a1a1a" stroke-width="1.3"/>
<line x1="573.40" y1="177.62" x2="573.40" y2="149.59" stroke="#111" stroke-width="3.4"/>
<circle cx="573.40" cy="164.63" r="1.8" fill="#fff"/>
<circle cx="631.40" cy="162.20" r="2.2" fill="#55A868" stroke="#1a1a1a" stroke-width="0.9"/>
<circle cx="637.86" cy="127.74" r="2.2" fill="#55A868" stroke="#1a1a1a" stroke-width="0.9"/>
<circle cx="639.69" cy="122.99" r="2.2" fill="#55A868" stroke="#1a1a1a" stroke-width="0.9"/>
<circle cx="639.70" cy="52.40" r="2.2" fill="#55A868" stroke="#1a1a1a" stroke-width="0.9"/>
<circle cx="633.10" cy="41.80" r="2.2" fill="#55A868" stroke="#1a1a1a" stroke-width="0.9"/>
<circle cx="639.05" cy="100.54" r="2.2" fill="#55A868" stroke="#1a1a1a" stroke-width="0.9"/>
<circle cx="636.22" cy="105.32" r="2.2" fill="#55A868" stroke="#1a1a1a" stroke-width="0.9"/>
<circle cx="639.66" cy="105.09" r="2.2" fill="#55A868" stroke="#1a1a1a" stroke-width="0.9"/>
<circle cx="633.50" cy="143.00" r="2.2" fill="#55A868" stroke="#1a1a1a" stroke-width="0.9"/>
<circle cx="638.42" cy="114.33" r="2.2" fill="#55A868" stroke="#1a1a1a" stroke-width="0.9"/>
<circle cx="644.30" cy="66.80" r="2.2" fill="#55A868" stroke="#1a1a1a" stroke-width="0.9"/>
<circle cx="642.53" cy="118.96" r="2.2" fill="#55A868" stroke="#1a1a1a" stroke-width="0.9"/>
<circle cx="636.29" cy="141.29" r="2.2" fill="#55A868" stroke="#1a1a1a" stroke-width="0.9"/>
<circle cx="634.36" cy="128.22" r="2.2" fill="#55A868" stroke="#1a1a1a" stroke-width="0.9"/>
<circle cx="636.71" cy="63.47" r="2.2" fill="#55A868" stroke="#1a1a1a" stroke-width="0.9"/>
<circle cx="636.29" cy="77.24" r="2.2" fill="#55A868" stroke="#1a1a1a" stroke-width="0.9"/>
<circle cx="643.19" cy="82.48" r="2.2" fill="#55A868" stroke="#1a1a1a" stroke-width="0.9"/>
<circle cx="631.39" cy="86.58" r="2.2" fill="#55A868" stroke="#1a1a1a" stroke-width="0.9"/>
<circle cx="637.60" cy="23.20" r="2.2" fill="#55A868" stroke="#1a1a1a" stroke-width="0.9"/>
<circle cx="640.88" cy="114.35" r="2.2" fill="#55A868" stroke="#1a1a1a" stroke-width="0.9"/>
<circle cx="634.76" cy="141.93" r="2.2" fill="#55A868" stroke="#1a1a1a" stroke-width="0.9"/>
<circle cx="640.16" cy="100.58" r="2.2" fill="#55A868" stroke="#1a1a1a" stroke-width="0.9"/>
<circle cx="638.79" cy="100.27" r="2.2" fill="#55A868" stroke="#1a1a1a" stroke-width="0.9"/>
<circle cx="641.49" cy="127.73" r="2.2" fill="#55A868" stroke="#1a1a1a" stroke-width="0.9"/>
<circle cx="635.64" cy="77.28" r="2.2" fill="#55A868" stroke="#1a1a1a" stroke-width="0.9"/>
<circle cx="640.53" cy="104.81" r="2.2" fill="#55A868" stroke="#1a1a1a" stroke-width="0.9"/>
<circle cx="643.60" cy="119.05" r="2.2" fill="#55A868" stroke="#1a1a1a" stroke-width="0.9"/>
<circle cx="642.48" cy="123.71" r="2.2" fill="#55A868" stroke="#1a1a1a" stroke-width="0.9"/>
<circle cx="636.76" cy="82.38" r="2.2" fill="#55A868" stroke="#1a1a1a" stroke-width="0.9"/>
<circle cx="634.96" cy="77.65" r="2.2" fill="#55A868" stroke="#1a1a1a" stroke-width="0.9"/>
<circle cx="642.11" cy="104.68" r="2.2" fill="#55A868" stroke="#1a1a1a" stroke-width="0.9"/>
<circle cx="643.16" cy="96.15" r="2.2" fill="#55A868" stroke="#1a1a1a" stroke-width="0.9"/>
<circle cx="639.92" cy="109.46" r="2.2" fill="#55A868" stroke="#1a1a1a" stroke-width="0.9"/>
<circle cx="634.81" cy="90.99" r="2.2" fill="#55A868" stroke="#1a1a1a" stroke-width="0.9"/>
<circle cx="641.39" cy="95.39" r="2.2" fill="#55A868" stroke="#1a1a1a" stroke-width="0.9"/>
<circle cx="635.52" cy="113.71" r="2.2" fill="#55A868" stroke="#1a1a1a" stroke-width="0.9"/>
<circle cx="632.64" cy="132.49" r="2.2" fill="#55A868" stroke="#1a1a1a" stroke-width="0.9"/>
<circle cx="639.98" cy="95.69" r="2.2" fill="#55A868" stroke="#1a1a1a" stroke-width="0.9"/>
<circle cx="642.28" cy="100.49" r="2.2" fill="#55A868" stroke="#1a1a1a" stroke-width="0.9"/>
<circle cx="636.64" cy="100.08" r="2.2" fill="#55A868" stroke="#1a1a1a" stroke-width="0.9"/>
<circle cx="643.21" cy="72.58" r="2.2" fill="#55A868" stroke="#1a1a1a" stroke-width="0.9"/>
<circle cx="635.61" cy="123.66" r="2.2" fill="#55A868" stroke="#1a1a1a" stroke-width="0.9"/>
<circle cx="632.70" cy="64.20" r="2.2" fill="#55A868" stroke="#1a1a1a" stroke-width="0.9"/>
<circle cx="633.55" cy="82.14" r="2.2" fill="#55A868" stroke="#1a1a1a" stroke-width="0.9"/>
<circle cx="637.58" cy="118.37" r="2.2" fill="#55A868" stroke="#1a1a1a" stroke-width="0.9"/>
<circle cx="643.28" cy="72.80" r="2.2" fill="#55A868" stroke="#1a1a1a" stroke-width="0.9"/>
<circle cx="635.68" cy="114.57" r="2.2" fill="#55A868" stroke="#1a1a1a" stroke-width="0.9"/>
<circle cx="633.40" cy="65.80" r="2.2" fill="#55A868" stroke="#1a1a1a" stroke-width="0.9"/>
<circle cx="633.69" cy="119.10" r="2.2" fill="#55A868" stroke="#1a1a1a" stroke-width="0.9"/>
<circle cx="640.90" cy="95.54" r="2.2" fill="#55A868" stroke="#1a1a1a" stroke-width="0.9"/>
<circle cx="634.04" cy="109.47" r="2.2" fill="#55A868" stroke="#1a1a1a" stroke-width="0.9"/>
<circle cx="634.96" cy="86.89" r="2.2" fill="#55A868" stroke="#1a1a1a" stroke-width="0.9"/>
<circle cx="633.56" cy="104.59" r="2.2" fill="#55A868" stroke="#1a1a1a" stroke-width="0.9"/>
<circle cx="640.17" cy="95.54" r="2.2" fill="#55A868" stroke="#1a1a1a" stroke-width="0.9"/>
<circle cx="642.30" cy="141.30" r="2.2" fill="#55A868" stroke="#1a1a1a" stroke-width="0.9"/>
<circle cx="643.52" cy="132.23" r="2.2" fill="#55A868" stroke="#1a1a1a" stroke-width="0.9"/>
<circle cx="639.21" cy="86.24" r="2.2" fill="#55A868" stroke="#1a1a1a" stroke-width="0.9"/>
<circle cx="632.89" cy="123.16" r="2.2" fill="#55A868" stroke="#1a1a1a" stroke-width="0.9"/>
<circle cx="640.14" cy="100.32" r="2.2" fill="#55A868" stroke="#1a1a1a" stroke-width="0.9"/>
<circle cx="642.12" cy="77.70" r="2.2" fill="#55A868" stroke="#1a1a1a" stroke-width="0.9"/>
<circle cx="638.33" cy="109.92" r="2.2" fill="#55A868" stroke="#1a1a1a" stroke-width="0.9"/>
<circle cx="640.77" cy="113.77" r="2.2" fill="#55A868" stroke="#1a1a1a" stroke-width="0.9"/>
<circle cx="632.68" cy="91.62" r="2.2" fill="#55A868" stroke="#1a1a1a" stroke-width="0.9"/>
<circle cx="636.27" cy="136.60" r="2.2" fill="#55A868" stroke="#1a1a1a" stroke-width="0.9"/>
<circle cx="641.82" cy="109.30" r="2.2" fill="#55A868" stroke="#1a1a1a" stroke-width="0.9"/>
<circle cx="639.86" cy="90.84" r="2.2" fill="#55A868" stroke="#1a1a1a" stroke-width="0.9"/>
<circle cx="638.95" cy="136.76" r="2.2" fill="#55A868" stroke="#1a1a1a" stroke-width="0.9"/>
<circle cx="632.31" cy="127.76" r="2.2" fill="#55A868" stroke="#1a1a1a" stroke-width="0.9"/>
<circle cx="639.93" cy="68.57" r="2.2" fill="#55A868" stroke="#1a1a1a" stroke-width="0.9"/>
<circle cx="634.13" cy="114.35" r="2.2" fill="#55A868" stroke="#1a1a1a" stroke-width="0.9"/>
<circle cx="640.07" cy="118.49" r="2.2" fill="#55A868" stroke="#1a1a1a" stroke-width="0.9"/>
<circle cx="638.89" cy="113.67" r="2.2" fill="#55A868" stroke="#1a1a1a" stroke-width="0.9"/>
<circle cx="631.30" cy="123.23" r="2.2" fill="#55A868" stroke="#1a1a1a" stroke-width="0.9"/>
<circle cx="641.81" cy="137.12" r="2.2" fill="#55A868" stroke="#1a1a1a" stroke-width="0.9"/>
<circle cx="634.40" cy="127.86" r="2.2" fill="#55A868" stroke="#1a1a1a" stroke-width="0.9"/>
<circle cx="639.42" cy="123.28" r="2.2" fill="#55A868" stroke="#1a1a1a" stroke-width="0.9"/>
<circle cx="631.86" cy="68.21" r="2.2" fill="#55A868" stroke="#1a1a1a" stroke-width="0.9"/>
<circle cx="633.45" cy="109.60" r="2.2" fill="#55A868" stroke="#1a1a1a" stroke-width="0.9"/>
<circle cx="642.55" cy="86.25" r="2.2" fill="#55A868" stroke="#1a1a1a" stroke-width="0.9"/>
<circle cx="640.14" cy="132.57" r="2.2" fill="#55A868" stroke="#1a1a1a" stroke-width="0.9"/>
<circle cx="643.30" cy="63.10" r="2.2" fill="#55A868" stroke="#1a1a1a" stroke-width="0.9"/>
<circle cx="633.88" cy="132.73" r="2.2" fill="#55A868" stroke="#1a1a1a" stroke-width="0.9"/>
<circle cx="633.50" cy="152.50" r="2.2" fill="#55A868" stroke="#1a1a1a" stroke-width="0.9"/>
<circle cx="632.93" cy="104.72" r="2.2" fill="#55A868" stroke="#1a1a1a" stroke-width="0.9"/>
<circle cx="636.53" cy="100.81" r="2.2" fill="#55A868" stroke="#1a1a1a" stroke-width="0.9"/>
<circle cx="639.70" cy="47.20" r="2.2" fill="#55A868" stroke="#1a1a1a" stroke-width="0.9"/>
<circle cx="634.96" cy="82.11" r="2.2" fill="#55A868" stroke="#1a1a1a" stroke-width="0.9"/>
<circle cx="639.19" cy="113.82" r="2.2" fill="#55A868" stroke="#1a1a1a" stroke-width="0.9"/>
<circle cx="632.56" cy="123.53" r="2.2" fill="#55A868" stroke="#1a1a1a" stroke-width="0.9"/>
<circle cx="634.91" cy="118.52" r="2.2" fill="#55A868" stroke="#1a1a1a" stroke-width="0.9"/>
<circle cx="635.98" cy="118.90" r="2.2" fill="#55A868" stroke="#1a1a1a" stroke-width="0.9"/>
<circle cx="634.60" cy="149.60" r="2.2" fill="#55A868" stroke="#1a1a1a" stroke-width="0.9"/>
<circle cx="639.23" cy="91.11" r="2.2" fill="#55A868" stroke="#1a1a1a" stroke-width="0.9"/>
<circle cx="635.46" cy="104.70" r="2.2" fill="#55A868" stroke="#1a1a1a" stroke-width="0.9"/>
<circle cx="642.25" cy="109.92" r="2.2" fill="#55A868" stroke="#1a1a1a" stroke-width="0.9"/>
<circle cx="631.37" cy="95.46" r="2.2" fill="#55A868" stroke="#1a1a1a" stroke-width="0.9"/>
<circle cx="635.46" cy="91.42" r="2.2" fill="#55A868" stroke="#1a1a1a" stroke-width="0.9"/>
<line x1="637.40" y1="179.91" x2="637.40" y2="41.45" stroke="#1a1a1a" stroke-width="1.3"/>
<line x1="637.40" y1="128.42" x2="637.40" y2="86.08" stroke="#111" stroke-width="3.4"/>
<circle cx="637.40" cy="107.25" r="1.8" fill="#fff"/>
</g>
<text x="468.7" y="191.35" font-size="10.1" text-anchor="end">0</text>
<text x="468.7" y="162.74" font-size="10.1" text-anchor="end">5</text>
<text x="468.7" y="134.13" font-size="10.1" text-anchor="end">10</text>
<text x="468.7" y="105.52" font-size="10.1" text-anchor="end">15</text>
<text x="468.7" y="76.92" font-size="10.1" text-anchor="end">20</text>
<text x="468.7" y="48.31" font-size="10.1" text-anchor="end">25</text>
<text x="468.7" y="19.70" font-size="10.1" text-anchor="end">30</text>
<text x="509.30" y="203.6" font-size="10.1" text-anchor="middle">sLOR</text>
<text x="573.30" y="203.6" font-size="10.1" text-anchor="middle">wMNE</text>
<text x="637.50" y="203.6" font-size="10.1" text-anchor="middle">MSP</text>
<text x="573.55" y="216.9" font-size="11" text-anchor="middle">Method</text>
<text x="573.55" y="9.7" font-size="11" text-anchor="middle" dx="-0.9">Single-source Test: 231 Electrodes</text>
<text transform="translate(451.7,101.52) rotate(-90)" font-size="11" text-anchor="middle">Localization Error (mm)</text>
</svg></body></html>
